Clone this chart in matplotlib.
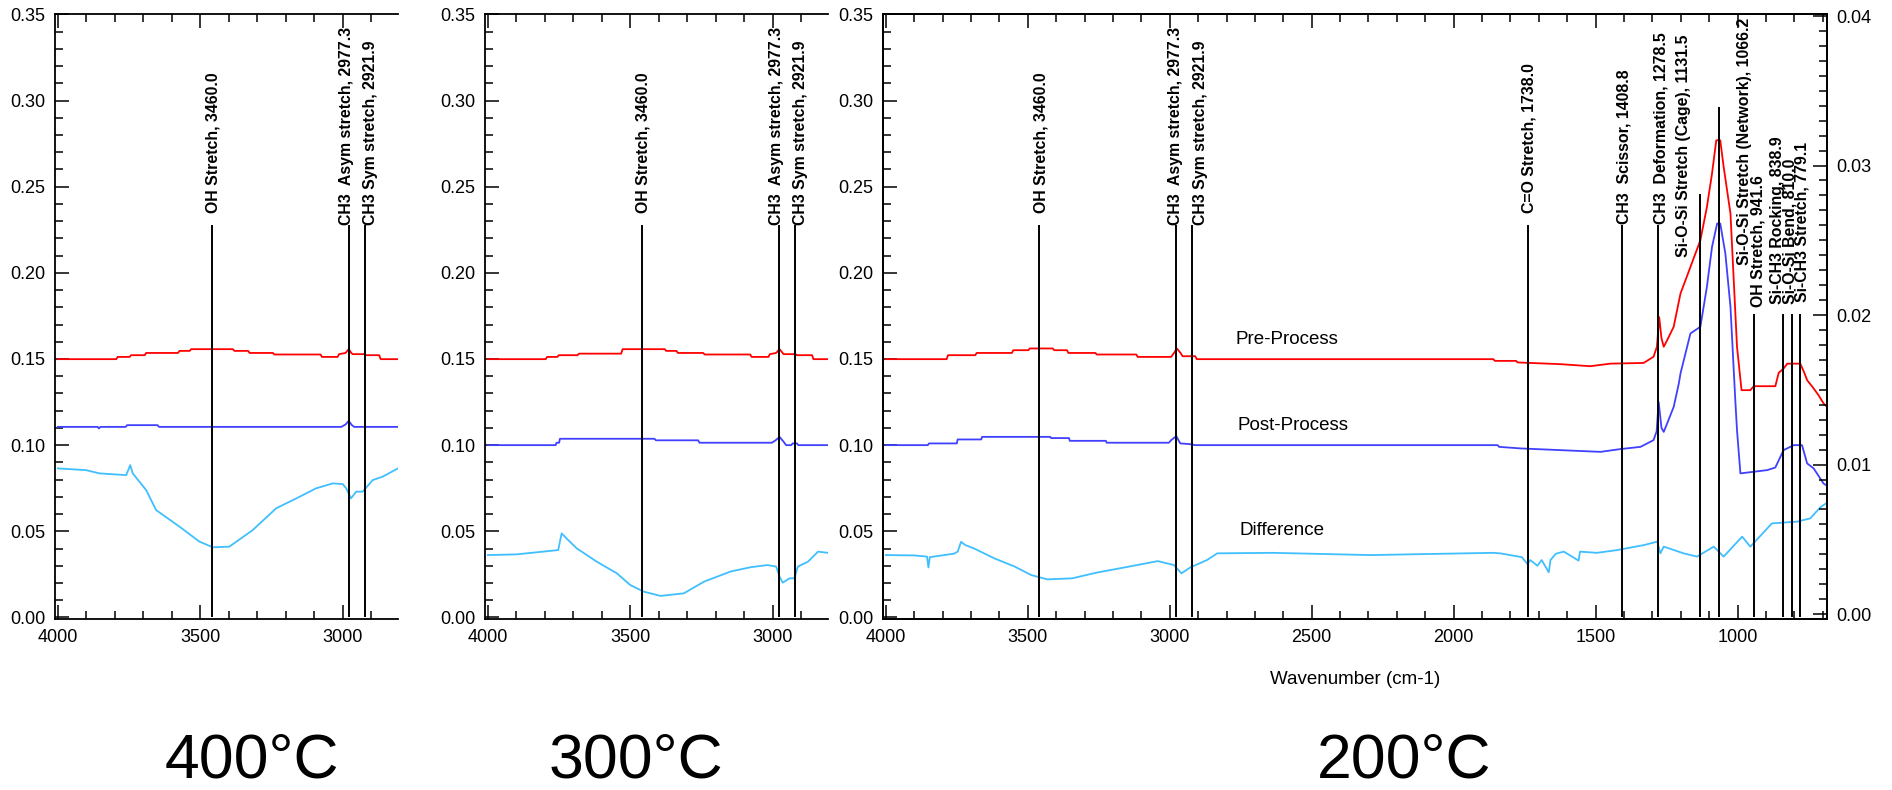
import matplotlib
matplotlib.use('Agg')
import matplotlib.pyplot as plt
from matplotlib.ticker import MultipleLocator, FormatStrFormatter

plt.rcParams['font.family'] = ['Liberation Sans', 'DejaVu Sans']

# ---------------- data ----------------
# 400 C
wn400_pre = [4000, 3795, 3790, 3748, 3743, 3695, 3690, 3578, 3573, 3537, 3532, 3386, 3380, 3332, 3327,
             3245, 3240, 3078, 3073, 3018, 3013, 2990, 2979, 2970, 2965, 2923, 2918, 2872, 2867, 2806]
ab400_pre = [0.1499, 0.1499, 0.1512, 0.1512, 0.1522, 0.1522, 0.1535, 0.1535, 0.1547, 0.1547, 0.1557, 0.1557,
             0.1547, 0.1547, 0.1535, 0.1535, 0.1526, 0.1526, 0.1512, 0.1512, 0.1528, 0.1535, 0.1557, 0.1535,
             0.1528, 0.1528, 0.1522, 0.1522, 0.1499, 0.1499]
wn400_post = [4000, 3860, 3856, 3850, 3762, 3757, 3650, 3645, 3005, 2990, 2979, 2968, 2960, 2806]
ab400_post = [0.1106, 0.1106, 0.1097, 0.1106, 0.1106, 0.1116, 0.1116, 0.1106, 0.1106, 0.1120, 0.1141,
              0.1116, 0.1106, 0.1106]
wn400_diff = [4000, 3901, 3854, 3760, 3746, 3737, 3690, 3655, 3573, 3503, 3456, 3398, 3316, 3234, 3152,
              3094, 3035, 3000, 2988, 2971, 2953, 2930, 2895, 2860, 2806]
ab400_diff = [0.0865, 0.0855, 0.0836, 0.0826, 0.0884, 0.0836, 0.0739, 0.0623, 0.0527, 0.0440, 0.0407,
              0.0411, 0.0507, 0.0633, 0.0700, 0.0749, 0.0778, 0.0774, 0.0750, 0.0691, 0.0730, 0.0730,
              0.0797, 0.0817, 0.0865]

# 300 C
wn300_pre = [4000, 3797, 3792, 3756, 3751, 3685, 3680, 3532, 3527, 3379, 3374, 3338, 3333, 3244, 3239,
             3079, 3074, 3015, 3010, 2988, 2976, 2962, 2920, 2915, 2862, 2857, 2806]
ab300_pre = [0.1499, 0.1499, 0.1512, 0.1512, 0.1522, 0.1522, 0.1531, 0.1531, 0.1557, 0.1557, 0.1547,
             0.1547, 0.1535, 0.1535, 0.1526, 0.1526, 0.1512, 0.1512, 0.1528, 0.1535, 0.1557, 0.1528,
             0.1528, 0.1522, 0.1522, 0.1499, 0.1499]
wn300_post = [4000, 3762, 3759, 3750, 3747, 3415, 3410, 3262, 3257, 3003, 2990, 2976, 2962, 2953, 2935,
              2930, 2915, 2910, 2806]
ab300_post = [0.1000, 0.1000, 0.1014, 0.1014, 0.1037, 0.1037, 0.1028, 0.1028, 0.1014, 0.1014, 0.1028,
              0.1048, 0.1020, 0.1000, 0.1000, 0.1010, 0.1010, 0.1000, 0.1000]
wn300_diff = [4000, 3900, 3806, 3753, 3741, 3724, 3688, 3618, 3547, 3500, 3453, 3394, 3312, 3241, 3147,
              3076, 3018, 2988, 2976, 2965, 2941, 2924, 2912, 2876, 2841, 2806]
ab300_diff = [0.0362, 0.0366, 0.0382, 0.0391, 0.0488, 0.0459, 0.0401, 0.0324, 0.0256, 0.0188, 0.0150,
              0.0125, 0.0140, 0.0208, 0.0267, 0.0292, 0.0304, 0.0295, 0.0237, 0.0202, 0.0227, 0.0227,
              0.0295, 0.0324, 0.0382, 0.0375]

# 200 C
wn200_pre = [4000, 3786, 3781, 3685, 3680, 3556, 3551, 3498, 3493, 3412, 3407, 3362, 3357, 3262, 3257,
             3118, 3113, 2995, 2985, 2975, 2962, 2955, 2910, 2905, 1860, 1855, 1780, 1775, 1624, 1519,
             1448, 1331, 1296, 1284, 1276, 1268, 1260, 1248, 1225, 1201, 1166, 1131, 1108, 1090, 1075,
             1061, 1049, 1025, 1002, 986, 955, 943, 867, 855, 838, 825, 779, 765, 755, 732, 715, 697, 690]
ab200_pre = [0.1499, 0.1499, 0.1522, 0.1522, 0.1535, 0.1535, 0.1551, 0.1551, 0.1561, 0.1561, 0.1551,
             0.1551, 0.1535, 0.1535, 0.1526, 0.1526, 0.1512, 0.1512, 0.1535, 0.1561, 0.1535, 0.1516,
             0.1516, 0.1499, 0.1499, 0.1489, 0.1489, 0.1480, 0.1470, 0.1458, 0.1473, 0.1477, 0.1513,
             0.1571, 0.1743, 0.1620, 0.1571, 0.1609, 0.1687, 0.1880, 0.2034, 0.2189, 0.2382, 0.2576,
             0.2769, 0.2769, 0.2615, 0.2344, 0.1571, 0.1319, 0.1319, 0.1342, 0.1342, 0.1420, 0.1444,
             0.1473, 0.1473, 0.1420, 0.1377, 0.1329, 0.1290, 0.1242, 0.1230]
wn200_post = [4000, 3852, 3848, 3750, 3747, 3664, 3661, 3421, 3418, 3355, 3352, 3225, 3222, 3003, 2995,
              2977, 2963, 2930, 2910, 1845, 1840, 1765, 1483, 1413, 1342, 1296, 1285, 1278, 1268, 1260,
              1248, 1225, 1207, 1201, 1166, 1131, 1108, 1090, 1072, 1061, 1043, 1025, 1008, 1002, 990,
              896, 867, 838, 802, 773, 755, 732, 697, 690]
ab200_post = [0.1000, 0.1000, 0.1010, 0.1010, 0.1033, 0.1033, 0.1048, 0.1048, 0.1041, 0.1041, 0.1025,
              0.1025, 0.1014, 0.1014, 0.1029, 0.1052, 0.1010, 0.1006, 0.1000, 0.1000, 0.0990, 0.0981,
              0.0961, 0.0977, 0.0990, 0.1029, 0.1080, 0.1251, 0.1100, 0.1077, 0.1126, 0.1222, 0.1357,
              0.1416, 0.1648, 0.1687, 0.1919, 0.2150, 0.2286, 0.2286, 0.2112, 0.1803, 0.1261, 0.1087,
              0.0836, 0.0855, 0.0870, 0.0971, 0.1000, 0.1000, 0.0894, 0.0865, 0.0777, 0.0770]
wn200_diff = [4000, 3900, 3855, 3850, 3845, 3760, 3747, 3735, 3720, 3690, 3618, 3546, 3488, 3431, 3344,
              3258, 3157, 3042, 2985, 2959, 2927, 2869, 2833, 2638, 2293, 1861, 1836, 1760, 1740, 1730,
              1705, 1690, 1665, 1659, 1640, 1612, 1560, 1555, 1495, 1424, 1330, 1283, 1272, 1260, 1190,
              1143, 1084, 1049, 984, 955, 879, 790, 744, 708, 690]
ab200_diff = [0.0362, 0.0360, 0.0353, 0.0290, 0.0350, 0.0370, 0.0382, 0.0439, 0.0420, 0.0401, 0.0343,
              0.0295, 0.0246, 0.0221, 0.0227, 0.0260, 0.0291, 0.0327, 0.0304, 0.0256, 0.0291, 0.0333,
              0.0372, 0.0375, 0.0362, 0.0375, 0.0372, 0.0350, 0.0310, 0.0333, 0.0300, 0.0333, 0.0262,
              0.0333, 0.0370, 0.0382, 0.0330, 0.0382, 0.0375, 0.0391, 0.0420, 0.0440, 0.0372, 0.0411,
              0.0372, 0.0353, 0.0411, 0.0353, 0.0469, 0.0411, 0.0546, 0.0556, 0.0575, 0.0640, 0.0660]

# peak assignments
peaks_hi = [3460.0, 2977.3, 2921.9]
names_hi = ['OH Stretch', 'CH3  Asym stretch', 'CH3 Sym stretch']
tops_hi = [0.2275, 0.2275, 0.2275]

peaks_200 = [3460.0, 2977.3, 2921.9, 1738.0, 1408.8, 1278.5, 1131.5, 1066.2, 941.6, 838.9, 810.0, 779.1]
names_200 = ['OH Stretch', 'CH3  Asym stretch', 'CH3 Sym stretch', 'C=O Stretch', 'CH3  Scissor',
             'CH3  Deformation', 'Si-O-Si Stretch (Cage)', 'Si-O-Si Stretch (Network)', 'OH Stretch',
             'Si-CH3 Rocking', 'Si-O-Si Bend', 'Si-CH3 Stretch']
tops_200 = [0.2275, 0.2275, 0.2275, 0.2275, 0.2275, 0.2275, 0.2455, 0.2965, 0.1759, 0.1759, 0.1759, 0.1759]

# label anchors (layout)
lab_x_hi = [3455, 2988, 2903]
lab_y_hi = [0.2345, 0.2275, 0.2275]
lab_x_200 = [3452, 2978, 2893, 1734, 1401, 1268, 1190, 976, 929, 861, 816, 773]
lab_y_200 = [0.2345, 0.2275, 0.2275, 0.2345, 0.2281, 0.2281, 0.2093, 0.2046, 0.1800, 0.1817, 0.1817, 0.1829]

RED = '#ff0000'
BLUE = '#4040ff'
LBLUE = '#40bfff'

W, H = 1892, 790
fig = plt.figure(figsize=(W / 100, H / 100), dpi=100)

bottom = 171 / H
height = 605.5 / H
ax1 = fig.add_axes([55 / W, bottom, 343 / W, height])
ax2 = fig.add_axes([485 / W, bottom, 343 / W, height])
ax3 = fig.add_axes([883 / W, bottom, 944 / W, height])


def style(ax, xlim):
    ax.set_xlim(*xlim)
    ax.set_ylim(-0.0009, 0.3505)
    ax.xaxis.set_major_locator(MultipleLocator(500))
    ax.xaxis.set_minor_locator(MultipleLocator(100))
    ax.yaxis.set_major_locator(MultipleLocator(0.05))
    ax.yaxis.set_minor_locator(MultipleLocator(0.01))
    ax.yaxis.set_major_formatter(FormatStrFormatter('%.2f'))
    ax.xaxis.set_major_formatter(FormatStrFormatter('%d'))
    ax.tick_params(which='both', direction='in', top=True, right=False, width=1.1)
    ax.tick_params(which='major', length=10, labelsize=13, pad=7)
    ax.tick_params(which='minor', length=5.5)
    for s in ax.spines.values():
        s.set_linewidth(1.3)


def annotate(ax, peaks, names, tops, lx, ly):
    ax.vlines(peaks, 0, tops, colors='k', linewidth=1.4, zorder=3)
    for p, n, lxx, lyy in zip(peaks, names, lx, ly):
        ax.text(lxx, lyy, f'{n}, {p:.1f}', rotation=90, ha='center', va='bottom',
                fontsize=11.4, fontweight='bold', zorder=4)


for ax, pre, post, diff in [
        (ax1, (wn400_pre, ab400_pre), (wn400_post, ab400_post), (wn400_diff, ab400_diff)),
        (ax2, (wn300_pre, ab300_pre), (wn300_post, ab300_post), (wn300_diff, ab300_diff))]:
    ax.plot(*pre, color=RED, lw=1.3)
    ax.plot(*post, color=BLUE, lw=1.3)
    ax.plot(*diff, color=LBLUE, lw=1.3)
    style(ax, (4010, 2806))
    ax.spines['right'].set_visible(False)
    annotate(ax, peaks_hi, names_hi, tops_hi, lab_x_hi, lab_y_hi)

ax3.plot(wn200_pre, ab200_pre, color=RED, lw=1.3)
ax3.plot(wn200_post, ab200_post, color=BLUE, lw=1.3)
ax3.plot(wn200_diff, ab200_diff, color=LBLUE, lw=1.3)
style(ax3, (4010, 685))
annotate(ax3, peaks_200, names_200, tops_200, lab_x_200, lab_y_200)
ax3.text(2770, 0.1614, 'Pre-Process', va='center', ha='left', fontsize=13.5)
ax3.text(2763, 0.1116, 'Post-Process', va='center', ha='left', fontsize=13.5)
ax3.text(2756, 0.0507, 'Difference', va='center', ha='left', fontsize=13.5)
ax3.set_xlabel('Wavenumber (cm-1)', fontsize=13.5, labelpad=18)

ax3r = ax3.twinx()
ax3r.set_ylim(-0.00033, 0.04017)
ax3r.yaxis.set_major_locator(MultipleLocator(0.01))
ax3r.yaxis.set_minor_locator(MultipleLocator(0.001))
ax3r.yaxis.set_major_formatter(FormatStrFormatter('%.2f'))
ax3r.tick_params(which='both', direction='in', width=1.1)
ax3r.tick_params(which='major', length=10, labelsize=13, pad=7)
ax3r.tick_params(which='minor', length=5.5)
for s in ax3r.spines.values():
    s.set_linewidth(1.3)

for label, xc in [('400°C', 252), ('300°C', 636), ('200°C', 1404)]:
    fig.text(xc / W, 13 / H, label, ha='center', va='baseline', fontsize=45)

fig.savefig('out.png', dpi=100)
